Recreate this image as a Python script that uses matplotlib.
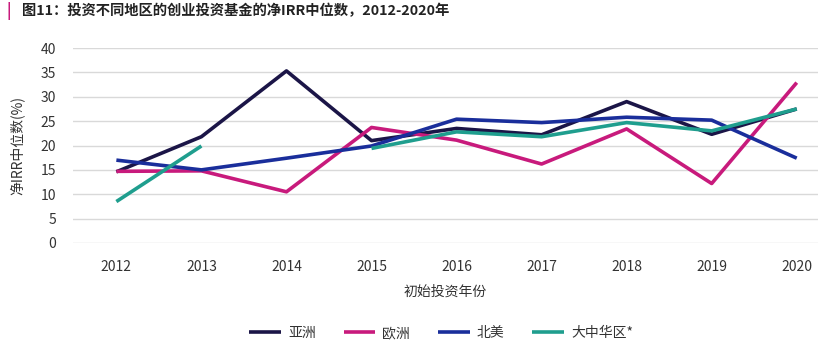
import matplotlib
matplotlib.use("Agg")
import matplotlib.pyplot as plt
import numpy as np

plt.rcParams['font.family'] = ['Noto Sans CJK SC', 'DejaVu Sans']

years = [2012, 2013, 2014, 2015, 2016, 2017, 2018, 2019, 2020]
asia = [14.6, 21.8, 35.3, 21.0, 23.5, 22.2, 29.0, 22.3, 27.5]
europe = [14.7, 14.8, 10.5, 23.7, 21.1, 16.2, 23.4, 12.2, 32.9]
namerica = [17.0, 15.0, 17.4, 19.9, 25.4, 24.7, 25.8, 25.2, 17.4]
gchina = [8.5, 19.9, np.nan, 19.4, 22.8, 21.8, 24.7, 23.0, 27.5]

names = ['亚洲', '欧洲', '北美', '大中华区*']
colors = ['#1b1547', '#c81a7c', '#1a2e9b', '#1f9e8e']
series = [asia, europe, namerica, gchina]

fig = plt.figure(figsize=(8.2, 3.47), dpi=100)
ax = fig.add_axes([73/820, 1-243/347, (818-73)/820, (243-48)/347])

for vals, c, n in zip(series, colors, names):
    ax.plot(years, vals, color=c, lw=2.6, label=n, solid_capstyle='butt')

ax.set_ylim(0, 40)
ax.set_xlim(2011.49, 2020.25)
ax.set_yticks(range(0, 41, 5))
ax.set_xticks(years)
ax.grid(axis='y', color='#d9d9d9', lw=1)
ax.set_axisbelow(True)
for s in ax.spines.values():
    s.set_visible(False)
ax.tick_params(length=0, labelsize=10, colors='#333333')
ax.tick_params(axis='y', pad=12)
ax.tick_params(axis='x', pad=12)
ax.set_xlabel('初始投资年份', fontsize=10, color='#333333', labelpad=8)
ax.set_ylabel('净IRR中位数(%)', fontsize=10, color='#333333', labelpad=12)

fig.legend(loc='center', bbox_to_anchor=(0.538, 1-333/347), ncol=4, frameon=False,
           fontsize=10, handlelength=2.3, handletextpad=0.5, columnspacing=2.0,
           labelcolor='#333333')

fig.text(0.008, 1-11/347, '|', color='#c81a7c', fontsize=11, fontweight='bold', va='center')
fig.text(22/820, 1-11/347, '图11：投资不同地区的创业投资基金的净IRR中位数，2012-2020年',
         fontsize=10.3, fontweight='bold', color='#222222', va='center')

fig.savefig('out.png', dpi=100)
